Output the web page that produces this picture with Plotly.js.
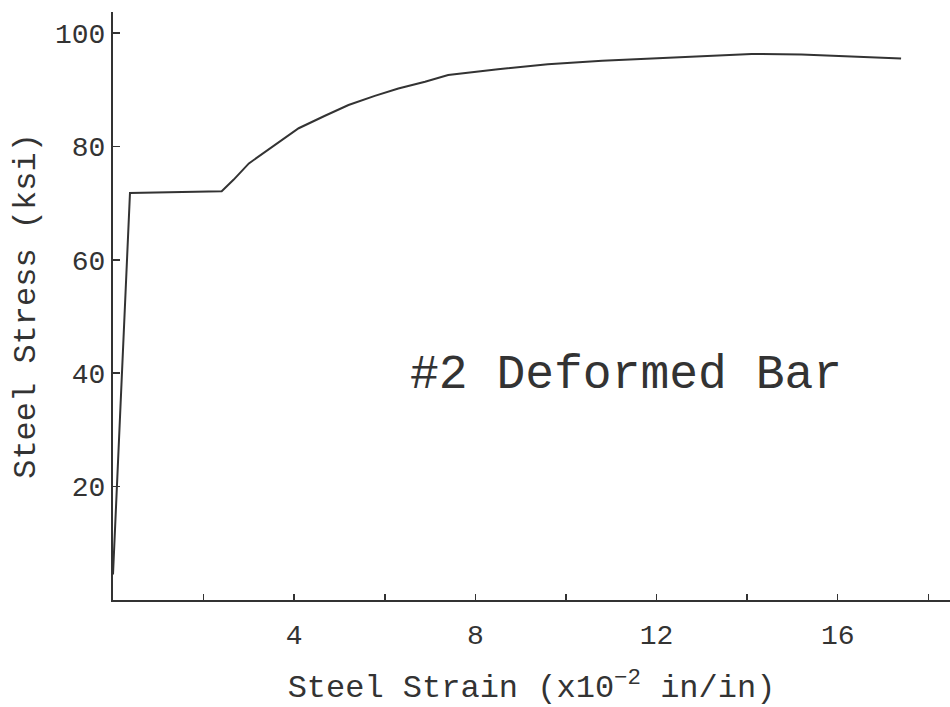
<!DOCTYPE html>
<html>
<head>
<meta charset="utf-8">
<script src="https://cdn.plot.ly/plotly-3.0.1.min.js"></script>
<style>html,body{margin:0;padding:0;background:#fff;}#chart{width:950px;height:707px;}</style>
</head>
<body>
<div id="chart"></div>
<script>
// Data
var strain = [0, 0.375, 2.4, 2.66, 3.0, 3.58, 4.1, 4.68, 5.2, 5.78, 6.3, 6.89, 7.4, 8.5, 9.6, 10.8, 11.9, 13.0, 14.1, 15.2, 16.3, 17.4];
var stress = [4.5, 71.8, 72.1, 74.1, 77.0, 80.2, 83.2, 85.4, 87.3, 88.9, 90.2, 91.4, 92.6, 93.6, 94.5, 95.1, 95.5, 96.0, 96.3, 96.2, 95.9, 95.5];
var xTickVals = [4, 8, 12, 16];
var xTickText = ['4', '8', '12', '16'];
var xMinorTickVals = [2, 6, 10, 14, 18];
var yTickVals = [20, 40, 60, 80, 100];
var yTickText = ['20', '40', '60', '80', '100'];
var labelText = '#2 Deformed Bar';

var ink = '#333333';
var fontFam = 'Liberation Mono, DejaVu Sans Mono, monospace';

Plotly.newPlot('chart', [{
  x: strain, y: stress, type: 'scatter', mode: 'lines',
  line: {color: ink, width: 2}, hoverinfo: 'skip'
}], {
  width: 950, height: 707,
  margin: {l: 113, r: 0, t: 12, b: 107},
  paper_bgcolor: '#fff', plot_bgcolor: '#fff',
  showlegend: false,
  font: {family: fontFam, color: ink},
  xaxis: {
    range: [0, 18.48], showgrid: false, zeroline: false,
    showline: true, linecolor: ink, linewidth: 2,
    tickmode: 'array', tickvals: xTickVals, ticktext: xTickText,
    ticks: 'inside', ticklen: 6, tickwidth: 1.5, tickcolor: ink,
    minor: {tickvals: xMinorTickVals, ticks: 'inside', ticklen: 6, tickwidth: 1.5, tickcolor: ink, showgrid: false},
    ticklabelstandoff: 8,
    tickfont: {family: fontFam, size: 28, color: ink},
    title: {text: 'Steel Strain (x10<sup>−2</sup> in/in)', font: {family: fontFam, size: 32, color: ink}, standoff: 30}
  },
  yaxis: {
    range: [0, 103.7], showgrid: false, zeroline: false,
    showline: true, linecolor: ink, linewidth: 2,
    tickmode: 'array', tickvals: yTickVals, ticktext: yTickText,
    ticks: 'inside', ticklen: 7, tickwidth: 1.5, tickcolor: ink,
    tickfont: {family: fontFam, size: 28, color: ink},
    title: {text: 'Steel Stress (ksi)', font: {family: fontFam, size: 32, color: ink}, standoff: 10}
  },
  annotations: [{
    x: 11.32, y: 39.7, xref: 'x', yref: 'y', text: labelText, showarrow: false,
    font: {family: fontFam, size: 48, color: ink}
  }]
}, {displayModeBar: false, staticPlot: true});
</script>
</body>
</html>
